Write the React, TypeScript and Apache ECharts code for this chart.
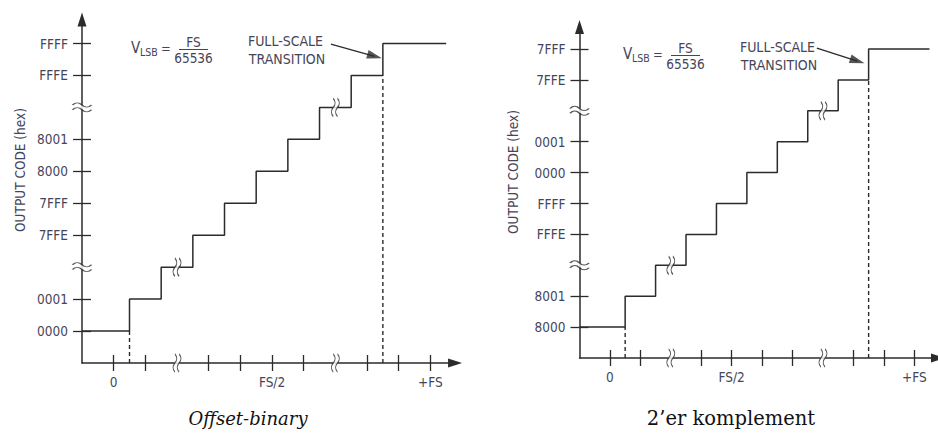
import React, { useEffect, useRef } from "react";
import * as echarts from "echarts";

// ---- data ----
const leftCodes = ["0000", "0001", "7FFE", "7FFF", "8000", "8001", "FFFE", "FFFF"];
const rightCodes = ["8000", "8001", "FFFE", "FFFF", "0000", "0001", "7FFE", "7FFF"];
const codeLevels = [1, 2, 4, 5, 6, 7, 9, 10];
const breakLevels = [3, 8];
const xTickValues = [1, 2, 4, 5, 6, 7, 9, 10, 11];
const leftXLabelPos = [1, 6, 11];
const rightXLabelPos = [1, 5, 11];
const xLabelTexts = ["0", "FS/2", "+FS"];
const leftSteps = [[0, 1], [1.5, 2], [2.5, 3], [3.5, 4], [4.5, 5], [5.5, 6], [6.5, 7], [7.5, 8], [8.5, 9], [9.5, 10], [11.5, 10]];
const rightSteps = [[0, 1], [1.5, 2], [2.5, 3], [3.5, 4], [4.5, 5], [5.5, 6], [6.5, 7], [7.5, 8], [8.5, 9], [9.5, 10], [11.5, 10]];
const dashFirst = [[1.5, 0], [1.5, 1]];
const dashFullScale = [[9.5, 0], [9.5, 9]];
const leftArrow = [[7.86, 9.98], [9.24, 9.6]];
const rightArrow = [[7.8, 10.03], [9.13, 9.61]];
const captions = ["Offset-binary", "2\u2019er komplement"];
const axisTitle = "OUTPUT CODE (hex)";

// ---- styles ----
const INK = "#2b2b2b";
const LABEL = "#45455a";
const NARROW = "'Liberation Sans Narrow', 'DejaVu Sans Condensed', 'Arial Narrow', sans-serif";
const SERIF = "'DejaVu Serif', 'Liberation Serif', serif";
const TILDES = "path://M0,3 C3,0 6,0 9,3 C12,6 15,6 18,3 M0,8 C3,5 6,5 9,8 C12,11 15,11 18,8";
const ARROWHEAD = "path://M0,14 L4.5,0 L9,14 Z";

const panels = [
  { ox: 82, oy: 363, ux: 31.67, uy: 31.95, xMax: 11.78, yMax: 10.75, codes: leftCodes, xPos: leftXLabelPos, steps: leftSteps, arrow: leftArrow, dx: 0, dy: 0, title: [20, 170], caption: [248, 418], italic: true, capSize: 18 },
  { ox: 579.5, oy: 358, ux: 30.8, uy: 30.9, xMax: 11.78, yMax: 10.71, codes: rightCodes, xPos: rightXLabelPos, steps: rightSteps, arrow: rightArrow, dx: 492, dy: 6, title: [513, 172], caption: [731, 418], italic: false, capSize: 19.5 },
];

function buildOption() {
  const grid: any[] = [];
  const xAxis: any[] = [];
  const yAxis: any[] = [];
  const series: any[] = [];
  const graphic: any[] = [];

  panels.forEach((p, i) => {
    grid.push({ left: p.ox, top: p.oy - p.yMax * p.uy, width: p.xMax * p.ux, height: p.yMax * p.uy, containLabel: false });
    const xMap: Record<string, string> = {};
    p.xPos.forEach((v, k) => (xMap[String(v)] = xLabelTexts[k]));
    const yMap: Record<string, string> = {};
    codeLevels.forEach((v, k) => (yMap[String(v)] = p.codes[k]));

    xAxis.push({
      type: "value", gridIndex: i, min: 0, max: p.xMax, position: "bottom",
      axisLine: { show: true, onZero: false, symbol: ["none", "triangle"], symbolSize: [9, 14], lineStyle: { color: INK, width: 1.5 } },
      axisTick: { show: true, inside: false, length: 8, customValues: xTickValues, lineStyle: { color: INK, width: 1.3 } },
      axisLabel: { show: true, customValues: p.xPos, formatter: (v: number) => xMap[String(v)] ?? "", margin: 12, color: LABEL, fontFamily: NARROW, fontSize: 13.5 },
      splitLine: { show: false },
    });
    xAxis.push({
      type: "value", gridIndex: i, min: 0, max: p.xMax, position: "bottom",
      axisLine: { show: false, onZero: false },
      axisTick: { show: true, inside: true, length: 8, customValues: xTickValues, lineStyle: { color: INK, width: 1.3 } },
      axisLabel: { show: false }, splitLine: { show: false },
    });
    yAxis.push({
      type: "value", gridIndex: i, min: 0, max: p.yMax, position: "left",
      axisLine: { show: true, onZero: false, symbol: ["none", "triangle"], symbolSize: [9, 14], lineStyle: { color: INK, width: 1.5 } },
      axisTick: { show: true, inside: false, length: 9, customValues: codeLevels, lineStyle: { color: INK, width: 1.3 } },
      axisLabel: { show: true, customValues: codeLevels, formatter: (v: number) => yMap[String(v)] ?? "", margin: 14, color: LABEL, fontFamily: NARROW, fontSize: 13.5 },
      splitLine: { show: false },
    });
    yAxis.push({
      type: "value", gridIndex: i, min: 0, max: p.yMax, position: "left",
      axisLine: { show: false, onZero: false },
      axisTick: { show: true, inside: true, length: 9, customValues: codeLevels, lineStyle: { color: INK, width: 1.3 } },
      axisLabel: { show: false }, splitLine: { show: false },
    });

    const xi = 2 * i, yi = 2 * i;
    series.push({
      type: "line", xAxisIndex: xi, yAxisIndex: yi, step: "end", data: p.steps, symbol: "none", clip: false, silent: true,
      lineStyle: { color: INK, width: 1.5 },
    });
    [dashFirst, dashFullScale].forEach((d) => {
      series.push({
        type: "line", xAxisIndex: xi, yAxisIndex: yi, data: d, symbol: "none", clip: false, silent: true,
        lineStyle: { color: INK, width: 1.4, type: [4, 3] },
      });
    });
    // annotation arrow: shaft + head
    series.push({
      type: "line", xAxisIndex: xi, yAxisIndex: yi, data: p.arrow, symbol: "none", clip: false, silent: true,
      lineStyle: { color: INK, width: 1.3 },
    });
    const pdx = (p.arrow[1][0] - p.arrow[0][0]) * p.ux;
    const pdy = (p.arrow[1][1] - p.arrow[0][1]) * p.uy;
    const headRot = (Math.atan2(pdy, pdx) * 180) / Math.PI - 90;
    series.push({
      type: "scatter", xAxisIndex: xi, yAxisIndex: yi, z: 6, silent: true, clip: false,
      data: [p.arrow[1]], symbol: ARROWHEAD, symbolSize: [9, 15], symbolRotate: headRot,
      itemStyle: { color: INK, borderWidth: 0 },
    });

    const yBreaks = breakLevels.map((b) => [0, b]);
    const xBreaks = breakLevels.map((b) => [b, 0]);
    const stepBreaks = breakLevels.map((b) => [b, b]);
    series.push({
      type: "scatter", xAxisIndex: xi, yAxisIndex: yi, z: 5, silent: true, clip: false,
      data: [...yBreaks, ...xBreaks, ...stepBreaks], symbol: "rect", symbolSize: 4.5,
      itemStyle: { color: "#ffffff", borderWidth: 0 },
    });
    series.push({
      type: "scatter", xAxisIndex: xi, yAxisIndex: yi, z: 6, silent: true, clip: false,
      data: yBreaks, symbol: TILDES, symbolSize: [19, 9],
      itemStyle: { color: "rgba(0,0,0,0)", borderColor: INK, borderWidth: 1.3 },
    });
    series.push({
      type: "scatter", xAxisIndex: xi, yAxisIndex: yi, z: 6, silent: true, clip: false,
      data: [...xBreaks, ...stepBreaks], symbol: TILDES, symbolSize: [18, 8], symbolRotate: 90,
      itemStyle: { color: "rgba(0,0,0,0)", borderColor: INK, borderWidth: 1.3 },
    });

    const dx = p.dx, dy = p.dy;
    const t = (x: number, y: number, text: string, size: number, align = "left") => ({
      type: "text", x: x + dx, y: y + dy, silent: true,
      style: { text, fill: LABEL, font: `${size}px ${NARROW}`, align, verticalAlign: "middle" },
    });
    graphic.push(t(131, 48, "V", 15));
    graphic.push(t(140, 51.5, "LSB", 10.5));
    graphic.push(t(161, 48.5, "=", 13));
    graphic.push({ type: "line", silent: true, shape: { x1: 179 + dx, y1: 49.5 + dy, x2: 208 + dx, y2: 49.5 + dy }, style: { stroke: LABEL, lineWidth: 1 } });
    graphic.push(t(193.5, 41.5, "FS", 13.5, "center"));
    graphic.push(t(193.5, 57.5, "65536", 13.5, "center"));
    graphic.push(t(285.5, 41, "FULL-SCALE", 14, "center"));
    graphic.push(t(287, 59, "TRANSITION", 14, "center"));
    graphic.push({
      type: "text", x: p.title[0], y: p.title[1], rotation: Math.PI / 2, silent: true,
      style: { text: axisTitle, fill: LABEL, font: `13.5px ${NARROW}`, align: "center", verticalAlign: "middle" },
    });
    graphic.push({
      type: "text", x: p.caption[0], y: p.caption[1], silent: true,
      style: { text: captions[i], fill: "#111111", font: `${p.italic ? "italic " : ""}${p.capSize}px ${SERIF}`, align: "center", verticalAlign: "middle" },
    });
  });

  return { animation: false, grid, xAxis, yAxis, series, graphic, backgroundColor: "#ffffff" };
}

export default function App() {
  const ref = useRef<HTMLDivElement>(null);
  useEffect(() => {
    document.body.style.margin = "0";
    if (!ref.current) return;
    const chart = echarts.init(ref.current, null, { renderer: "svg" });
    chart.setOption(buildOption() as any);
    return () => chart.dispose();
  }, []);
  return <div ref={ref} style={{ position: "absolute", left: 0, top: 0, width: 938, height: 434 }} />;
}
